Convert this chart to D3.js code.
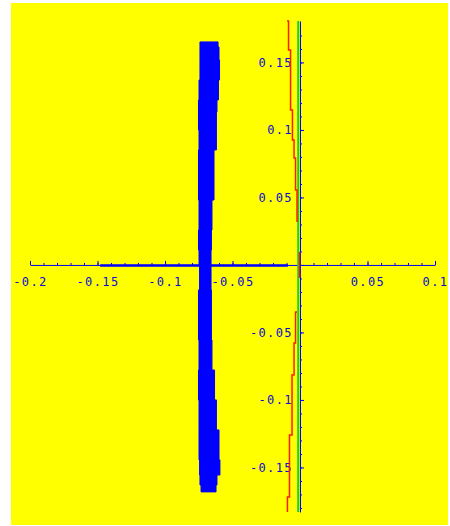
<!DOCTYPE html>
<html>
<head>
<meta charset="utf-8">
<script src="https://cdn.jsdelivr.net/npm/d3@7"></script>
<style>
  body { margin: 0; background: #fff; }
  .tick text { font-family: "DejaVu Sans Mono", monospace; font-size: 12px; letter-spacing: 1.4px; fill: #0a0ad2; }
</style>
</head>
<body>
<div id="chart"></div>
<script>
'use strict';

// Tick labels
const xMajor = [-0.2, -0.15, -0.1, -0.05, 0, 0.05, 0.1];
const yMajor = [-0.15, -0.1, -0.05, 0, 0.05, 0.1, 0.15];

// Thick blue band: y, left edge, right edge
const bandY     = [0.1652, 0.1615, 0.1519, 0.1370, 0.1222, 0.1133, 0.1000, 0.0852, 0.0667, 0.0481, 0.0259, 0.0111, 0.0000, -0.0185, -0.0333, -0.0556, -0.0778, -0.1000, -0.1222, -0.1444, -0.1556, -0.1630, -0.1681];
const bandLeft  = [-0.0733, -0.0741, -0.0741, -0.0741, -0.0748, -0.0752, -0.0752, -0.0748, -0.0752, -0.0752, -0.0748, -0.0752, -0.0748, -0.0744, -0.0752, -0.0752, -0.0748, -0.0752, -0.0748, -0.0748, -0.0744, -0.0741, -0.0733];
const bandRight = [-0.0637, -0.0607, -0.0600, -0.0596, -0.0604, -0.0615, -0.0619, -0.0619, -0.0637, -0.0637, -0.0652, -0.0656, -0.0659, -0.0659, -0.0656, -0.0656, -0.0652, -0.0633, -0.0619, -0.0600, -0.0593, -0.0615, -0.0622];

// Thick blue run along the real axis
const realRunX = [-0.148, -0.009];

// Red curve, upper and lower pieces, plus small piece at the origin
const redTopY = [0.1807, 0.1593, 0.1148, 0.0926, 0.0793, 0.0556, 0.0319];
const redTopX = [-0.0096, -0.0085, -0.0070, -0.0056, -0.0044, -0.0033, -0.0022];
const redBotY = [-0.0348, -0.0578, -0.0815, -0.1259, -0.1719, -0.1830];
const redBotX = [-0.0022, -0.0033, -0.0044, -0.0059, -0.0078, -0.0093];
const redMidY = [0.0096, -0.0096];
const redMidX = [-0.0003, -0.0003];

// Green vertical line
const greenX = -0.0013;
const yLimits = [0.1807, -0.183];

const width = 450, height = 526;

const svg = d3.select("#chart").append("svg")
    .attr("width", width)
    .attr("height", height);

svg.append("rect")
    .attr("x", 11).attr("y", 3)
    .attr("width", 437).attr("height", 522)
    .attr("fill", "#ffff00");

const x = d3.scaleLinear().domain([-0.2, 0.1]).range([30, 435]);
const y = d3.scaleLinear().domain(yLimits).range([21, 512]);

const fmt = d => d === 0 ? "" : String(+d.toFixed(2));
const blue = "#0000ff";

// x axis: ticks point up, labels below
const gx = svg.append("g").attr("transform", `translate(0,${y(0)})`);
gx.call(d3.axisBottom(x).tickValues(xMajor).tickFormat(fmt).tickSize(-4).tickSizeOuter(0).tickPadding(13));
gx.append("g").call(d3.axisBottom(x).tickValues(d3.range(-20, 11).map(i => i / 100)).tickFormat("").tickSize(-2).tickSizeOuter(0))
    .select(".domain").remove();

// y axis: ticks point right, labels left
const gy = svg.append("g").attr("transform", `translate(${x(0)},0)`);
gy.call(d3.axisLeft(y).tickValues(yMajor).tickFormat(fmt).tickSize(-4).tickSizeOuter(0).tickPadding(7));
gy.append("g").call(d3.axisLeft(y).tickValues(d3.range(-18, 18).map(i => i / 100)).tickFormat("").tickSize(-2).tickSizeOuter(0))
    .select(".domain").remove();

svg.selectAll(".domain, .tick line").attr("stroke", blue);

// green line
svg.append("line")
    .attr("x1", x(greenX)).attr("x2", x(greenX))
    .attr("y1", y(yLimits[0])).attr("y2", y(yLimits[1]))
    .attr("stroke", "#10cc50").attr("stroke-width", 2);

// red curve pieces
const redLine = d3.line().x(d => x(d[0])).y(d => y(d[1])).curve(d3.curveStepAfter);
[[redTopX, redTopY], [redBotX, redBotY], [redMidX, redMidY]].forEach(([xs, ys]) => {
  svg.append("path")
      .datum(xs.map((v, i) => [v, ys[i]]))
      .attr("d", redLine)
      .attr("fill", "none")
      .attr("stroke", "#ff1a00")
      .attr("stroke-width", 1.5);
});

// thick run along real axis
svg.append("line")
    .attr("x1", x(realRunX[0])).attr("x2", x(realRunX[1]))
    .attr("y1", y(0) + 0.5).attr("y2", y(0) + 0.5)
    .attr("stroke", blue).attr("stroke-width", 2.5);

// blue band
const band = d3.area()
    .y(d => y(d.y))
    .x0(d => x(d.l))
    .x1(d => x(d.r))
    .curve(d3.curveStepAfter);
svg.append("path")
    .datum(bandY.map((v, i) => ({y: v, l: bandLeft[i], r: bandRight[i]})))
    .attr("d", band)
    .attr("fill", blue)
    .attr("stroke", blue)
    .attr("stroke-width", 1);
</script>
</body>
</html>
